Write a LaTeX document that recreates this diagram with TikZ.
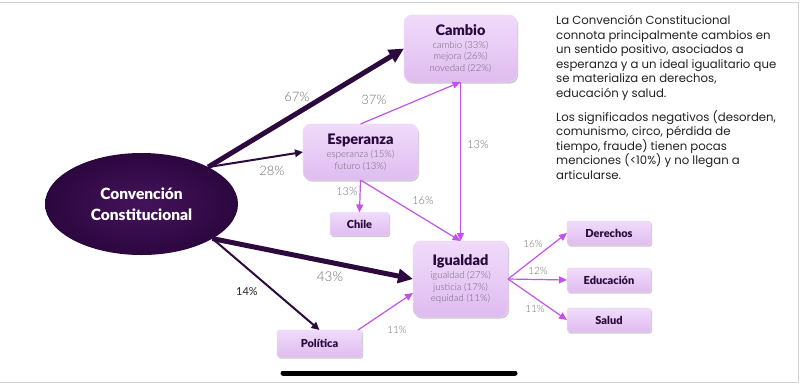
\documentclass[tikz,border=0pt]{standalone}
\usepackage{fontspec}
\setmainfont{Lato}
\newfontfamily\bodyfont{Poppins}
\IfFontExistsTF{Lato Black}{\newfontfamily\heavyfont{Lato Black}}{\newcommand\heavyfont{\bfseries}}
\IfFontExistsTF{Lato Light}{\newfontfamily\lightfont{Lato Light}}{\newcommand\lightfont{}}
\usetikzlibrary{arrows.meta,shadows,shapes.geometric,calc}

\definecolor{darkp}{HTML}{2C0A3E}
\definecolor{ellin}{HTML}{44135A}
\definecolor{ellout}{HTML}{2C073F}
\definecolor{mag}{HTML}{C452EA}
\definecolor{titc}{HTML}{2A0A3D}
\definecolor{subc}{HTML}{716678}
\definecolor{pctc}{HTML}{707070}
\definecolor{boxtop}{HTML}{F0DBFA}
\definecolor{boxbot}{HTML}{DFBCF0}
\definecolor{bodyc}{HTML}{222222}
\definecolor{framec}{HTML}{D2D2D2}

\newcommand{\ttl}{\heavyfont\fontsize{14.5}{15}\selectfont\color{titc}}

\begin{document}
\begin{tikzpicture}[x=1pt,y=-1pt,
  boxbase/.style={draw=boxbot!60!white, line width=0.5pt, top color=boxtop, bottom color=boxbot,
    drop shadow={shadow xshift=1pt, shadow yshift=-1.5pt, opacity=0.3, fill=black!70},
    inner sep=0pt, outer sep=0pt, align=center, text=titc},
  bigbox/.style={boxbase, rounded corners=8pt, text=subc,
    font=\lightfont\fontsize{9.6}{11.7}\selectfont},
  smallbox/.style={boxbase, rounded corners=2.5pt, minimum width=84pt, minimum height=24pt,
    font=\heavyfont\fontsize{11}{12}\selectfont},
  pct/.style={text=pctc, font=\lightfont\fontsize{11}{12}\selectfont, inner sep=0pt},
  heavyarrow/.style={draw=darkp, line width=5pt, -{Triangle[length=15pt,width=14pt]}},
  midarrow/.style={draw=darkp, line width=2pt, -{Triangle[length=8pt,width=7.5pt]}},
  magarrow/.style={draw=mag, line width=1.2pt, -{Triangle[length=8pt,width=7pt]}},
  bodytext/.style={anchor=base west, align=left, inner sep=0pt, text=bodyc,
      font=\bodyfont\fontsize{11.7}{14.6}\selectfont},
  ]
\useasboundingbox (0,0) rectangle (800,384);
\fill[white] (0,0) rectangle (800,384);
\draw[framec, line width=1pt] (0,2.5) -- (798.5,2.5) -- (798.5,382) -- (0,382);

% nodes
\node[ellipse, minimum width=193pt, minimum height=102pt, inner sep=0pt, outer sep=0pt,
      inner color=ellin, outer color=ellout, text=white, align=center,
      font=\heavyfont\fontsize{15.5}{21}\selectfont] (conv) at (141.5,204)
      {Convención\\Constitucional};

\node[bigbox, minimum width=113pt, minimum height=67pt] (cambio) at (460.5,48.5)
  {\ttl Cambio\\[1.5pt]cambio (33\%)\\ mejora (26\%)\\ novedad (22\%)};
\node[bigbox, minimum width=115pt, minimum height=56pt] (esperanza) at (360.5,152)
  {\ttl Esperanza\\[1.5pt]esperanza (15\%)\\ futuro (13\%)};
\node[bigbox, minimum width=95pt, minimum height=76pt] (igualdad) at (460.5,279)
  {\ttl Igualdad\\[1.5pt]igualdad (27\%)\\ justicia (17\%)\\ equidad (11\%)};
\node[smallbox, minimum width=59pt, minimum height=23pt] (chile) at (359.5,224) {Chile};
\node[smallbox, minimum width=85pt, minimum height=27pt] (politica) at (319.5,343.5) {Política};
\node[smallbox] (derechos) at (609,233) {Derechos};
\node[smallbox] (educacion) at (609,280) {Educación};
\node[smallbox] (salud) at (609,320) {Salud};

% connectors
\draw[heavyarrow] (conv.29) -- (cambio.west);
\draw[midarrow] (conv.29) -- (esperanza.west);
\draw[heavyarrow] (conv.-26) -- (igualdad.west);
\draw[midarrow] (conv.-26) -- (politica.north);
\draw[magarrow] (esperanza.north) -- (cambio.south);
\draw[magarrow] (cambio.south) -- (igualdad.north);
\draw[magarrow] (esperanza.south) -- (chile.north);
\draw[magarrow] (esperanza.south) -- (igualdad.north);
\coordinate (igin) at ($(igualdad.west)+(0,14)$);
\coordinate (polout) at ($(politica.north east)+(-4,0)$);
\draw[magarrow] (polout) -- (igin);
\draw[magarrow] (igualdad.east) -- (derechos.west);
\draw[magarrow] (igualdad.east) -- (educacion.west);
\draw[magarrow] (igualdad.east) -- (salud.west);

% labels
\node[pct, font=\lightfont\fontsize{13}{14}\selectfont] (l67) at (297,97) {67\%};
\node[pct, font=\lightfont\fontsize{13}{14}\selectfont] (l28) at (272,171) {28\%};
\node[pct, font=\lightfont\fontsize{13}{14}\selectfont] (l37) at (374,100) {37\%};
\node[pct] (l13a) at (478,145) {13\%};
\node[pct] (l13b) at (347,192) {13\%};
\node[pct] (l16a) at (423,201) {16\%};
\node[pct, font=\lightfont\fontsize{13.5}{14}\selectfont] (l43) at (330,277) {43\%};
\node[pct, text=black!85, font=\fontsize{11}{12}\selectfont] (l14) at (247,292) {14\%};
\node[pct, font=\lightfont\fontsize{10}{11}\selectfont] (l11a) at (397,330) {11\%};
\node[pct, font=\lightfont\fontsize{10}{11}\selectfont] (l16b) at (533,244) {16\%};
\node[pct, font=\lightfont\fontsize{10}{11}\selectfont] (l12) at (538,271) {12\%};
\node[pct, font=\lightfont\fontsize{10}{11}\selectfont] (l11b) at (535,309) {11\%};

% text (anchor is the baseline of the last line)
\node[bodytext] (p1) at (556,97.5)
  {La Convención Constitucional\\connota principalmente cambios en\\un sentido positivo, asociados a\\esperanza y a un ideal igualitario que\\se materializa en derechos,\\educación y salud.};
\node[bodytext] (p2) at (556,179.5)
  {Los significados negativos (desorden,\\comunismo, circo, pérdida de\\tiempo, fraude) tienen pocas\\menciones (<10\%) y no llegan a\\articularse.};

% home indicator
\draw[black, line width=5pt, line cap=round] (283,373) -- (515,373);
\end{tikzpicture}
\end{document}
